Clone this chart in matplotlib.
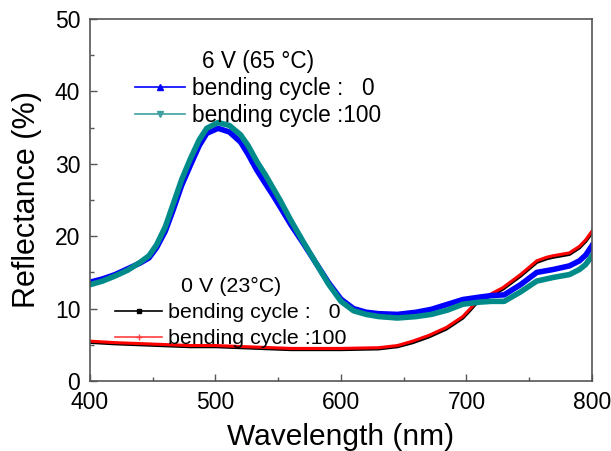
import matplotlib
matplotlib.use("Agg")
import matplotlib.pyplot as plt
from matplotlib.lines import Line2D
from matplotlib.ticker import MultipleLocator

plt.rcParams['font.family'] = ['Liberation Sans', 'DejaVu Sans']

# 6 V (65 °C) data
wl_hot = [400, 410, 420, 430, 440, 447, 453, 460, 466, 473, 480, 487, 493, 502, 511, 520,
          526, 533, 540, 546, 552, 560, 570, 580, 590, 600, 610, 620, 630, 645, 660, 672,
          685, 697, 711, 720, 730, 743, 756, 769, 782, 790, 795, 800]
hot_cycle0 = [13.65, 14.1, 14.7, 15.5, 16.3, 17.0, 18.4, 20.7, 23.5, 27.0, 29.8, 32.5, 34.2,
              34.9, 34.4, 33.0, 31.3, 29.1, 27.2, 25.6, 23.9, 21.6, 19.0, 16.3, 13.6, 11.3,
              10.0, 9.5, 9.3, 9.2, 9.5, 9.9, 10.6, 11.25, 11.6, 11.8, 11.9, 13.3, 15.0,
              15.4, 15.9, 16.6, 17.4, 18.7]
hot_cycle100 = [13.3, 13.8, 14.5, 15.3, 16.4, 17.3, 18.8, 21.3, 24.3, 27.8, 30.7, 33.3, 34.9,
                35.7, 35.3, 34.0, 32.5, 30.3, 28.4, 26.6, 24.8, 22.2, 19.2, 16.3, 13.4, 11.0,
                9.7, 9.2, 8.9, 8.7, 8.9, 9.2, 9.8, 10.6, 10.9, 11.0, 11.0, 12.3, 13.8, 14.3,
                14.7, 15.4, 16.1, 17.3]

# 0 V (23 °C) data
wl_cold = [400, 420, 450, 480, 500, 530, 560, 600, 630, 645, 657, 670, 684, 697, 703, 708,
           716, 729, 743, 756, 764, 769, 782, 790, 795, 800]
cold_cycle0 = [5.35, 5.15, 4.95, 4.75, 4.75, 4.55, 4.35, 4.35, 4.45, 4.75, 5.3, 6.1, 7.2,
               8.7, 9.8, 10.8, 11.5, 12.7, 14.5, 16.4, 16.9, 17.1, 17.5, 18.4, 19.3, 20.5]
cold_cycle100 = [5.5, 5.3, 5.1, 4.9, 4.9, 4.7, 4.5, 4.5, 4.6, 4.9, 5.5, 6.3, 7.4, 8.9, 10.0,
                 11.0, 11.7, 12.9, 14.7, 16.6, 17.1, 17.3, 17.7, 18.6, 19.5, 20.7]

labels = ["bending cycle :   0", "bending cycle :100"]
title_hot = "6 V (65 \u00b0C)"
title_cold = "0 V (23\u00b0C)"

fig = plt.figure(figsize=(6.11, 4.51), dpi=100)
ax = fig.add_axes([0.1473, 0.1552, 0.8216, 0.8027])

ax.plot(wl_cold, cold_cycle0, color='black', lw=2.4)
ax.plot(wl_cold, cold_cycle100, color='#ff0000', lw=2.2)
ax.plot(wl_hot, hot_cycle0, color='#0000ff', lw=4.0)
ax.plot(wl_hot, hot_cycle100, color='#008b8b', lw=4.0)

ax.set_xlim(400, 800)
ax.set_ylim(0, 50)
ax.xaxis.set_major_locator(MultipleLocator(100))
ax.xaxis.set_minor_locator(MultipleLocator(50))
ax.yaxis.set_major_locator(MultipleLocator(10))
ax.yaxis.set_minor_locator(MultipleLocator(5))
ax.tick_params(which='major', direction='in', length=5, width=1, labelsize=16.5, pad=7,
               color='#555555')
ax.tick_params(which='minor', direction='in', length=3, width=1, color='#555555')
for s in ax.spines.values():
    s.set_color('#555555')
    s.set_linewidth(1.2)

ax.set_xlabel("Wavelength (nm)", fontsize=21.5, labelpad=7)
ax.set_ylabel("Reflectance (%)", fontsize=22, labelpad=9)

h_hot = [Line2D([], [], color='#0000ff', lw=1.2, marker='^', ms=4),
         Line2D([], [], color='#40a0a0', lw=1.2, marker='v', ms=4)]
h_cold = [Line2D([], [], color='black', lw=1.2, marker='s', ms=2.5),
          Line2D([], [], color='#ff4040', lw=1.2, marker='+', ms=4)]

leg1 = ax.legend(h_hot, labels, title=title_hot, loc='upper left',
                 bbox_to_anchor=(0.0896, 0.915), frameon=False, fontsize=16.3,
                 title_fontsize=16.3, numpoints=1, handlelength=2.2, handletextpad=0.3,
                 labelspacing=0.18, borderpad=0, borderaxespad=0)
ax.add_artist(leg1)
leg2 = ax.legend(h_cold, labels, title=title_cold, loc='upper left',
                 bbox_to_anchor=(0.0498, 0.2875), frameon=False, fontsize=15.4,
                 title_fontsize=15.4, numpoints=1, handlelength=2.2, handletextpad=0.3,
                 labelspacing=0.33, borderpad=0, borderaxespad=0)

fig.savefig("out.png", dpi=100)
